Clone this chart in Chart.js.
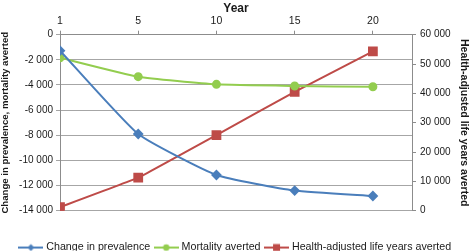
<!DOCTYPE html>
<html>
<head>
<meta charset="utf-8">
<script src="https://cdn.jsdelivr.net/npm/chart.js@4"></script>
<style>
  html, body { margin: 0; padding: 0; background: #fff; }
  #wrap { width: 472px; height: 251px; position: relative; }
</style>
</head>
<body>
<div id="wrap"><canvas id="chart"></canvas></div>
<script>
'use strict';

// ===== data =====
const years = ['1', '5', '10', '15', '20'];
const prevalenceChange = [-1270, -7900, -11160, -12400, -12830];
const mortalityAverted = [-1830, -3340, -3950, -4080, -4140];
const halyAverted = [1200, 11250, 25800, 40500, 54300];
const leftTicks = [0, -2000, -4000, -6000, -8000, -10000, -12000, -14000];
const rightTicks = [0, 10000, 20000, 30000, 40000, 50000, 60000];

// ===== style =====
const FONT = 'Liberation Sans, Arial, sans-serif';
const BLUE = '#4a7ebb';
const GREEN = '#93cd4f';
const RED = '#be4b48';
const AXIS = '#8c8c8c';
const GRID = '#a6a6a6';
const TEXT = '#1a1a1a';

// 3 000 style numbers
function fmt(v) {
  return v.toLocaleString('en-US').replace(/,/g, ' ');
}

function pts(values) {
  return values.map((v, i) => ({ x: i, y: v }));
}

// legend symbol: line with marker in middle
function legendIcon(color, shape) {
  const c = document.createElement('canvas');
  c.width = 25; c.height = 10;
  const g = c.getContext('2d');
  g.strokeStyle = color; g.fillStyle = color; g.lineWidth = 2;
  g.beginPath(); g.moveTo(0, 5); g.lineTo(25, 5); g.stroke();
  g.beginPath();
  if (shape === 'diamond') {
    g.moveTo(12.5, 1.5); g.lineTo(16, 5); g.lineTo(12.5, 8.5); g.lineTo(9, 5); g.closePath();
  } else if (shape === 'circle') {
    g.arc(12.5, 5, 3.2, 0, Math.PI * 2);
  } else {
    g.rect(9, 1.5, 7, 7);
  }
  g.fill();
  return c;
}

const icons = [legendIcon(BLUE, 'diamond'), legendIcon(GREEN, 'circle'), legendIcon(RED, 'square')];

// move legend row down under the plot
const legendShift = {
  id: 'legendShift',
  afterLayout(chart) {
    if (chart.legend) {
      chart.legend.top += 25.5;
      chart.legend.bottom += 25.5;
    }
  },
};

new Chart(document.getElementById('chart'), {
  type: 'line',
  data: {
    datasets: [
      {
        label: 'Change in prevalence',
        data: pts(prevalenceChange),
        yAxisID: 'yL',
        borderColor: BLUE, backgroundColor: BLUE,
        borderWidth: 2, pointStyle: 'rectRot', pointRadius: 4,
        tension: 0.15,
      },
      {
        label: 'Mortality averted',
        data: pts(mortalityAverted),
        yAxisID: 'yL',
        borderColor: GREEN, backgroundColor: GREEN,
        borderWidth: 2, pointStyle: 'circle', pointRadius: 3.5,
        tension: 0.15,
      },
      {
        label: 'Health-adjusted life years averted',
        data: pts(halyAverted),
        yAxisID: 'yR',
        borderColor: RED, backgroundColor: RED,
        borderWidth: 2, pointStyle: 'rect', pointRadius: 5.5,
        tension: 0.05,
      },
    ],
  },
  options: {
    responsive: true,
    maintainAspectRatio: false,
    animation: false,
    layout: { padding: { left: 0, right: 0, top: 0, bottom: 13.6 } },
    plugins: {
      tooltip: { enabled: false },
      legend: {
        position: 'bottom',
        labels: {
          usePointStyle: true,
          pointStyleWidth: 20,
          boxHeight: 10,
          padding: 6,
          color: TEXT,
          font: { family: FONT, size: 10.7 },
          generateLabels: chart => chart.data.datasets.map((ds, i) => ({
            text: ds.label,
            pointStyle: icons[i],
            fillStyle: ds.borderColor,
            strokeStyle: ds.borderColor,
            lineWidth: 0,
            fontColor: TEXT,
            hidden: false,
            datasetIndex: i,
          })),
        },
      },
    },
    scales: {
      x: {
        type: 'linear',
        position: 'top',
        min: 0,
        max: 4.5,
        afterBuildTicks: s => { s.ticks = years.map((y, i) => ({ value: i })); },
        afterFit: s => { s.height = 34.7; },
        ticks: {
          callback: v => years[v] ?? '',
          color: TEXT,
          font: { family: FONT, size: 10.5 },
          padding: 3,
          maxRotation: 0,
          autoSkip: false,
        },
        grid: { drawOnChartArea: false, drawTicks: true, tickLength: 4, color: AXIS },
        border: { display: true, color: AXIS },
        title: {
          display: true,
          text: 'Year',
          color: TEXT,
          font: { family: FONT, size: 12, weight: 'bold' },
          padding: { top: 1, bottom: 0 },
        },
      },
      yL: {
        position: 'left',
        min: -14000,
        max: 0,
        afterBuildTicks: s => { s.ticks = leftTicks.map(v => ({ value: v })); },
        afterFit: s => { s.width = 60; },
        ticks: {
          callback: v => fmt(v),
          color: TEXT,
          font: { family: FONT, size: 10 },
          padding: 3,
        },
        grid: { color: GRID, drawTicks: true, tickLength: 4 },
        border: { display: true, color: AXIS },
        title: {
          display: true,
          text: 'Change in prevalence, mortality averted',
          color: TEXT,
          font: { family: FONT, size: 9.6, weight: 'bold', lineHeight: 1 },
          padding: { top: 1, bottom: 0 },
        },
      },
      yR: {
        position: 'right',
        min: 0,
        max: 60000,
        afterBuildTicks: s => { s.ticks = rightTicks.map(v => ({ value: v })); },
        afterFit: s => { s.width = 60; },
        ticks: {
          callback: v => fmt(v),
          color: TEXT,
          font: { family: FONT, size: 10 },
          padding: 4,
        },
        grid: { drawOnChartArea: false, drawTicks: true, tickLength: 4, color: AXIS },
        border: { display: true, color: AXIS },
        title: {
          display: true,
          text: 'Health-adjusted life years averted',
          color: TEXT,
          font: { family: FONT, size: 10.5, weight: 'bold', lineHeight: 1 },
          padding: { top: 3, bottom: 0 },
        },
      },
    },
  },
  plugins: [legendShift],
});
</script>
</body>
</html>
